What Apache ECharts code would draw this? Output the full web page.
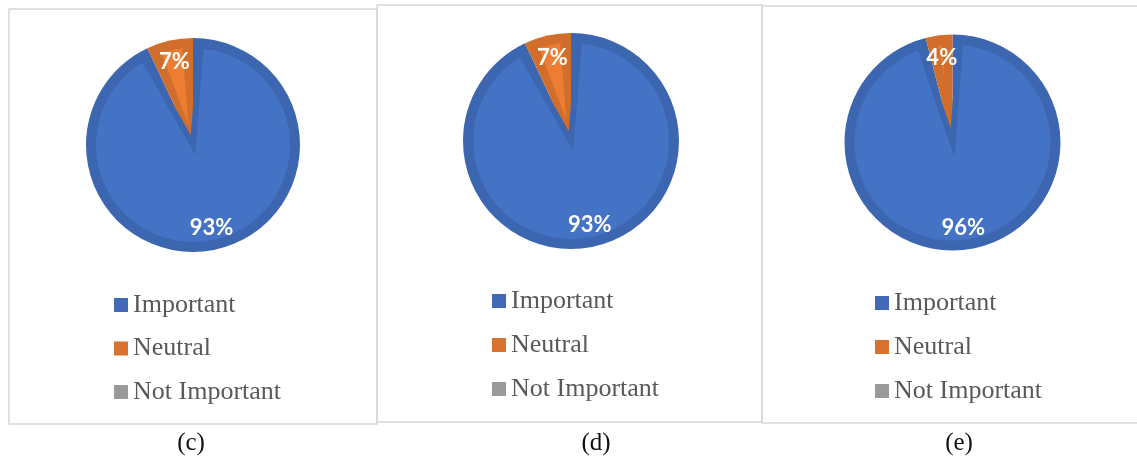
<!DOCTYPE html>
<html><head><meta charset="utf-8">
<script src="https://cdn.jsdelivr.net/npm/echarts@6/dist/echarts.min.js"></script>
<style>html,body{margin:0;padding:0;background:#fff}#chart{width:1137px;height:459px}</style>
</head><body><div id="chart"></div>
<script>
// ---- data ----
const categories = ['Important', 'Neutral', 'Not Important'];
const panelNames = ['(c)', '(d)', '(e)'];
const valuesC = [93, 7, 0];
const valuesD = [93, 7, 0];
const valuesE = [96, 4, 0];
const panelValues = [valuesC, valuesD, valuesE];

// ---- layout / style ----
const layout = [
  {cx: 193, cy: 145, R: 107, legendX: 114, legendY: 292, gap: 17.5, capX: 191, frame: [9, 9, 368, 415]},
  {cx: 571, cy: 141, R: 108, legendX: 492, legendY: 288, gap: 18, capX: 596, frame: [377, 5, 385, 417]},
  {cx: 952.5, cy: 142.5, R: 108, legendX: 875, legendY: 290, gap: 18, capX: 959, frame: [762, 6, 400, 417]}
];
const lightColors = ['#4472C4', '#ED7D31', '#A5A5A5'];
const darkColors = ['#3C66B0', '#D26E2B', '#8F8F8F'];
const legendColors = ['#4169B8', '#D97131', '#9A9A9A'];
const ring = 10, stroke = 6, pad = 9;

const series = [];
panelValues.forEach((vals, p) => {
  const L = layout[p];
  const sum = vals.reduce((a, b) => a + b, 0);
  // dark base layer (exact slices)
  series.push({
    type: 'pie', center: [L.cx, L.cy], radius: [0, L.R], startAngle: 90, clockwise: true,
    silent: true, animation: false, z: 1,
    label: {show: false}, labelLine: {show: false}, emphasis: {disabled: true},
    data: categories.map((c, i) => ({name: c, value: vals[i], itemStyle: {color: darkColors[i], borderWidth: 0}}))
  });
  // lighter inner layer (inset look); first category drawn last
  const nz = categories.map((c, i) => i).filter(i => vals[i] > 0);
  const order = nz.filter(i => i !== 0).concat(nz.indexOf(0) >= 0 ? [0] : []);
  series.push({
    type: 'pie', center: [L.cx, L.cy], radius: [0, L.R - ring + stroke / 2],
    startAngle: 90 + (sum - vals[0]) / sum * 360, clockwise: true, padAngle: pad,
    silent: true, animation: false, z: 2,
    label: {show: false}, labelLine: {show: false}, emphasis: {disabled: true},
    data: order.map(i => ({
      name: categories[i], value: vals[i],
      itemStyle: {color: lightColors[i], borderColor: darkColors[i], borderWidth: stroke,
                  borderJoin: i === 0 ? 'miter' : 'bevel', borderMiterLimit: 10}
    }))
  });
  // label layer
  series.push({
    type: 'pie', center: [L.cx, L.cy], radius: [L.R * 0.53, L.R], startAngle: 90, clockwise: true,
    silent: true, animation: false, z: 3,
    itemStyle: {color: 'rgba(0,0,0,0)', borderWidth: 0},
    labelLine: {show: false}, emphasis: {disabled: true},
    label: {
      show: true, position: 'inside', color: '#ffffff',
      fontFamily: 'Lato', fontWeight: 'bold', fontSize: 22,
      formatter: prm => (prm.value > 0 ? prm.value + '%' : '')
    },
    data: categories.map((c, i) => ({name: c, value: vals[i]}))
  });
});

const legends = layout.map(L => ({
  orient: 'vertical', left: L.legendX, top: L.legendY, padding: 0,
  itemWidth: 14, itemHeight: 14, itemGap: L.gap, icon: 'rect', selectedMode: false,
  textStyle: {fontFamily: 'Liberation Serif', fontSize: 26, color: '#595959', lineHeight: 26},
  data: categories.map((c, i) => ({name: c, itemStyle: {color: legendColors[i]}}))
}));

const graphic = [];
layout.forEach((L, p) => {
  graphic.push({
    type: 'rect', silent: true, z: -1,
    shape: {x: L.frame[0], y: L.frame[1], width: L.frame[2], height: L.frame[3]},
    style: {fill: 'none', stroke: '#D6D6D6', lineWidth: 1.5}
  });
  graphic.push({
    type: 'text', silent: true, x: L.capX, y: 443,
    style: {text: panelNames[p], fontFamily: 'Liberation Serif', fontSize: 25, fill: '#111111',
            textAlign: 'center', textVerticalAlign: 'middle', align: 'center', verticalAlign: 'middle'}
  });
});

const chart = echarts.init(document.getElementById('chart'), null, {renderer: 'canvas'});
chart.setOption({
  backgroundColor: '#ffffff',
  animation: false,
  legend: legends,
  graphic: graphic,
  series: series
});
</script>
</body></html>
